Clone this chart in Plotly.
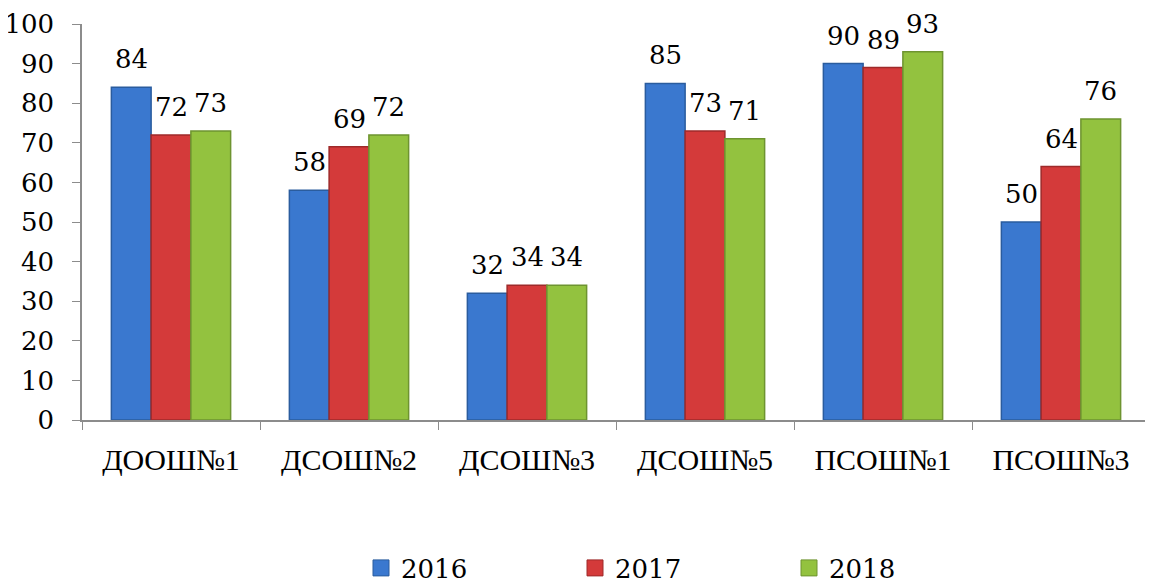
import plotly.graph_objects as go

categories = ["ДООШ№1", "ДСОШ№2", "ДСОШ№3", "ДСОШ№5", "ПСОШ№1", "ПСОШ№3"]
years = ["2016", "2017", "2018"]
v2016 = [84, 58, 32, 85, 90, 50]
v2017 = [72, 69, 34, 73, 89, 64]
v2018 = [73, 72, 34, 71, 93, 76]

series = [v2016, v2017, v2018]
fills = ["#3A78CF", "#D43A3A", "#93C23F"]
edges = ["#2A5C9E", "#9E2A2A", "#6E9430"]

FONT = "Liberation Serif"
NUMFONT = "DejaVu Serif"
FS = 30
NFS = 26

W, H = 1145, 577
ML, MR, MT, MB = 74, 3, 16, 165
BARGAP = 0.33
plot_w = W - ML - MR
plot_h = H - MT - MB
cat_w = plot_w / len(categories)
bar_w = cat_w * (1 - BARGAP) / len(series)

fig = go.Figure()
for i, (name, vals, fc, ec) in enumerate(zip(years, series, fills, edges)):
    fig.add_trace(go.Bar(
        x=categories, y=vals, name=name, showlegend=False,
        marker=dict(color=fc, line=dict(color=ec, width=1.5)),
    ))
    fig.add_trace(go.Scatter(
        x=[None], y=[None], mode="markers", name=name,
        marker=dict(symbol="square", size=16, color=fc, line=dict(color=ec, width=1)),
    ))
    for c, v in zip(categories, vals):
        fig.add_annotation(x=c, y=v, text=str(v), showarrow=False,
                           xref="x", yref="y", xshift=(i - 1) * bar_w, yshift=28,
                           font=dict(family=NUMFONT, size=NFS, color="black"))

fig.update_layout(
    width=W, height=H,
    margin=dict(l=ML, r=MR, t=MT, b=MB, autoexpand=False),
    paper_bgcolor="white", plot_bgcolor="white",
    barmode="group", bargap=BARGAP, bargroupgap=0,
    font=dict(family=FONT, size=FS, color="black"),
    legend=dict(orientation="h", x=(353 - ML) / plot_w, xanchor="left",
                y=(412 - 560) / plot_h, yanchor="middle",
                font=dict(family=NUMFONT, size=NFS), entrywidth=169, entrywidthmode="pixels"),
    showlegend=True,
)
fig.update_xaxes(showline=True, linecolor="#8C8C8C", linewidth=1.5, automargin=False,
                 ticks="outside", tickson="boundaries", ticklen=8, tickcolor="#8C8C8C",
                 ticklabelstandoff=12,
                 tickfont=dict(family=FONT, size=FS), showgrid=False)
fig.update_yaxes(range=[0, 100], dtick=10, showline=True, linecolor="#8C8C8C", linewidth=1.5,
                 automargin=False, ticklabelstandoff=13, ticklabeloverflow="allow",
                 ticks="outside", ticklen=8, tickcolor="#8C8C8C", showgrid=False,
                 tickfont=dict(family=NUMFONT, size=NFS), zeroline=False)

fig.write_html("out.html")
